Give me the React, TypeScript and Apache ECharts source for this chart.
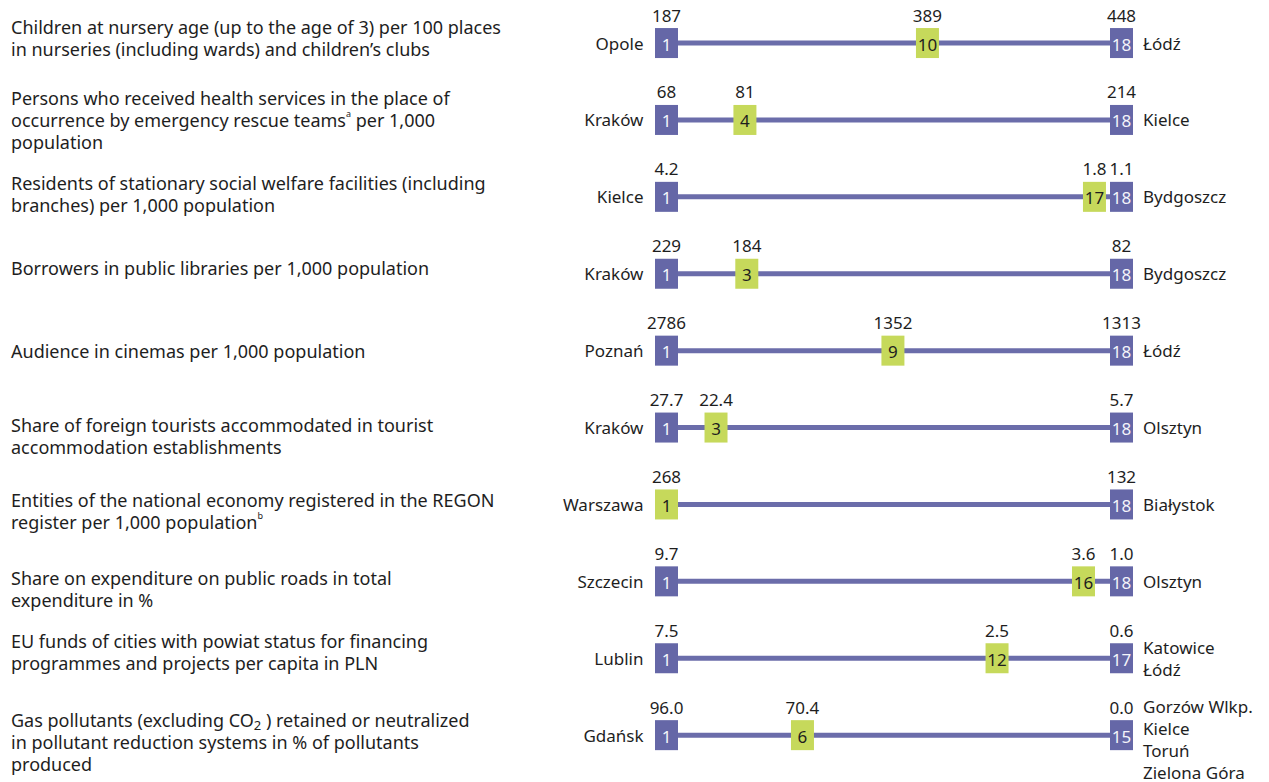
import React, { useEffect, useRef } from "react";
import * as echarts from "echarts";

const descriptions = [
  "Children at nursery age (up to the age of 3) per 100 places\nin nurseries (including wards) and children’s clubs",
  "Persons who received health services in the place of\noccurrence by emergency rescue teams{sup|a} per 1,000\npopulation",
  "Residents of stationary social welfare facilities (including\nbranches) per 1,000 population",
  "Borrowers in public libraries per 1,000 population",
  "Audience in cinemas per 1,000 population",
  "Share of foreign tourists accommodated in tourist\naccommodation establishments",
  "Entities of the national economy registered in the REGON\nregister per 1,000 population{sup|b}",
  "Share on expenditure on public roads in total\nexpenditure in %",
  "EU funds of cities with powiat status for financing\nprogrammes and projects per capita in PLN",
  "Gas pollutants (excluding CO{sub|2} ) retained or neutralized\nin pollutant reduction systems in % of pollutants\nproduced",
];
const leftCities = ["Opole", "Kraków", "Kielce", "Kraków", "Poznań", "Kraków", "Warszawa", "Szczecin", "Lublin", "Gdańsk"];
const rightCities = [
  "Łódź", "Kielce", "Bydgoszcz", "Bydgoszcz", "Łódź", "Olsztyn", "Białystok", "Olsztyn",
  "Katowice\nŁódź", "Gorzów Wlkp.\nKielce\nToruń\nZielona Góra",
];
const bestRank = [1, 1, 1, 1, 1, 1, 1, 1, 1, 1];
const bestValues = ["187", "68", "4.2", "229", "2786", "27.7", "268", "9.7", "7.5", "96.0"];
const worstRank = [18, 18, 18, 18, 18, 18, 18, 18, 17, 15];
const worstValues = ["448", "214", "1.1", "82", "1313", "5.7", "132", "1.0", "0.6", "0.0"];
const cityRank = [10, 4, 17, 3, 9, 3, 1, 16, 12, 6];
const cityValues = ["389", "81", "1.8", "184", "1352", "22.4", "268", "3.6", "2.5", "70.4"];
// position of the highlighted city marker along the scale
const cityPos = [10.75, 3.93, 16.99, 4.0, 9.46, 2.85, 1, 16.58, 13.35, 6.08];
const scaleStart = 1;
const scaleEnd = 18;

// small layout nudges of the description texts (vertical shift), px
const descShift = [-5, 0, -3, -6, 0, 8, 7, 8, -6, 7];
const rightShift = [0, 0, 0, 0, 0, 0, 0, 0, 0, 4];

const BLUE = "#6567A7";
const LINE = "#6B6DAA";
const GREEN = "#C6D95B";
const TEXT = "#1E1E1E";
const FONT = "'Noto Sans', sans-serif";

function shifted(text: string, s: number) {
  if (s > 0) return `{g${2 * s}| }\n` + text;
  if (s < 0) return text + `\n{g${-2 * s}| }`;
  return text;
}

const gapStyles: Record<string, any> = {};
for (let h = 1; h <= 24; h++) gapStyles[`g${h}`] = { lineHeight: h, fontSize: 1, height: h };

function markerRenderer(ranks: number[], values: string[], fill: string, txt: string, skip?: (i: number) => boolean) {
  return (params: any, api: any) => {
    const i = params.dataIndex;
    if (skip && skip(i)) return null;
    const p = api.coord([api.value(0), api.value(1)]);
    const cx = p[0];
    const cy = p[1];
    return {
      type: "group",
      children: [
        { type: "rect", shape: { x: cx - 11.5, y: cy - 15, width: 23, height: 30 }, style: { fill } },
        {
          type: "text",
          x: cx,
          y: cy + 1,
          style: { text: String(ranks[i]), fill: txt, font: `17px ${FONT}`, align: "center", verticalAlign: "middle" },
        },
        {
          type: "text",
          x: cx,
          y: cy - 28,
          style: { text: values[i], fill: TEXT, font: `17px ${FONT}`, align: "center", verticalAlign: "middle" },
        },
      ],
    };
  };
}

export default function App() {
  const ref = useRef<HTMLDivElement>(null);
  useEffect(() => {
    document.body.style.margin = "0";
    const chart = echarts.init(ref.current!, undefined, { renderer: "svg" });
    const rows = leftCities.map((_, i) => i);
    const descData = descriptions.map((d, i) => shifted(d, descShift[i]));
    const rightData = rightCities.map((c, i) => shifted(c, rightShift[i]));
    const option: any = {
      animation: false,
      backgroundColor: "#ffffff",
      textStyle: { fontFamily: FONT },
      grid: { left: 666.5, right: 147.5, top: 4.6, bottom: 8.4, containLabel: false, outerBoundsMode: "none" },
      xAxis: {
        type: "value",
        min: scaleStart,
        max: scaleEnd,
        show: false,
      },
      yAxis: [
        {
          type: "category",
          inverse: true,
          data: leftCities,
          position: "left",
          axisLine: { show: false },
          axisTick: { show: false },
          axisLabel: { interval: 0, margin: 23, color: TEXT, fontSize: 17, fontFamily: FONT },
        },
        {
          type: "category",
          inverse: true,
          data: rightData,
          position: "right",
          axisLine: { show: false },
          axisTick: { show: false },
          axisLabel: {
            interval: 0,
            margin: 21.5,
            color: TEXT,
            fontSize: 17,
            lineHeight: 22,
            fontFamily: FONT,
            rich: gapStyles,
          },
        },
        {
          type: "category",
          inverse: true,
          data: descData,
          position: "left",
          offset: 655.5,
          axisLine: { show: false },
          axisTick: { show: false },
          axisLabel: {
            interval: 0,
            margin: 0,
            align: "left",
            color: TEXT,
            fontSize: 18,
            lineHeight: 22,
            fontFamily: FONT,
            rich: {
              ...gapStyles,
              sup: { fontSize: 9, verticalAlign: "top", lineHeight: 16, color: TEXT, fontFamily: FONT },
              sub: { fontSize: 13, verticalAlign: "bottom", lineHeight: 10, color: TEXT, fontFamily: FONT },
            },
          },
        },
      ],
      series: [
        {
          type: "custom",
          silent: true,
          data: rows.map((i) => [scaleStart, i, scaleEnd]),
          renderItem: (params: any, api: any) => {
            const a = api.coord([api.value(0), api.value(1)]);
            const b = api.coord([api.value(2), api.value(1)]);
            return {
              type: "line",
              shape: { x1: a[0], y1: a[1], x2: b[0], y2: b[1] },
              style: { stroke: LINE, lineWidth: 5 },
            };
          },
          z: 1,
        },
        {
          type: "custom",
          silent: true,
          data: rows.map((i) => [scaleStart, i]),
          renderItem: markerRenderer(bestRank, bestValues, BLUE, "#F4F4FA", (i) => cityRank[i] === 1),
          z: 2,
        },
        {
          type: "custom",
          silent: true,
          data: rows.map((i) => [scaleEnd, i]),
          renderItem: markerRenderer(worstRank, worstValues, BLUE, "#F4F4FA"),
          z: 2,
        },
        {
          type: "custom",
          silent: true,
          data: rows.map((i) => [cityPos[i], i]),
          renderItem: markerRenderer(cityRank, cityValues, GREEN, TEXT),
          z: 3,
        },
      ],
    };
    chart.setOption(option);
    return () => chart.dispose();
  }, []);
  return <div ref={ref} style={{ width: 1269, height: 782 }} />;
}
